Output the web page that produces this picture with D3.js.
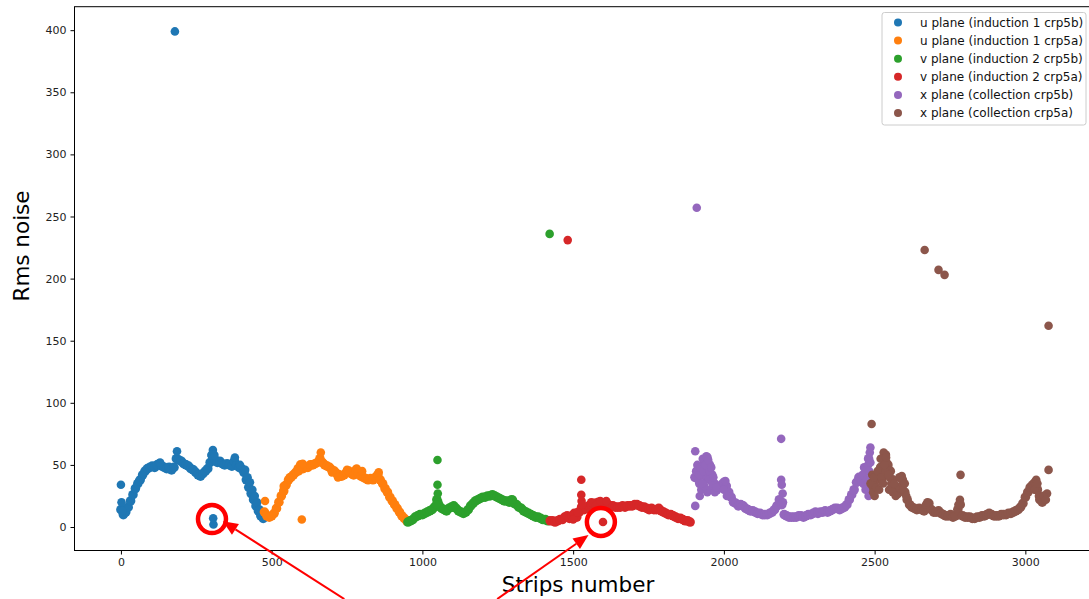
<!DOCTYPE html>
<html>
<head>
<meta charset="utf-8">
<script src="https://cdn.jsdelivr.net/npm/d3@7"></script>
<style>
  body { margin: 0; background: #fff; }
  svg { display: block; }
  text { font-family: "DejaVu Sans", sans-serif; }
</style>
</head>
<body>
<svg id="chart" width="1089" height="599"></svg>
<script>
// series names + colours (matplotlib tab10)
var seriesNames = [
  "u plane (induction 1 crp5b)",
  "u plane (induction 1 crp5a)",
  "v plane (induction 2 crp5b)",
  "v plane (induction 2 crp5a)",
  "x plane (collection crp5b)",
  "x plane (collection crp5a)"
]
var seriesColors = ["#1f77b4", "#ff7f0e", "#2ca02c", "#d62728", "#9467bd", "#8c564b"]

// first strip of every plane, values are read every 8 strips
var stripStep = 8
var seriesStart = [0, 476, 952, 1424, 1904, 2488]

var uCrp5b = [14,10,12,16,21,26,31,35,38,42,45,47,48,49,48,50,51,49,48,47,48,46,48,55,54,53,51,50,49,47,
  46,44,42,41,43,45,47,52,57,54,52,53,51,50,51,50,49,53,50,48,47,44,38,32,27,22,17,13,9,7]
var uCrp5a = [12,9,8,9,11,15,20,25,29,34,38,40,42,44,47,50,47,48,48,50,50,51,52,55,52,50,49,48,46,45,
  43,42,41,42,44,45,43,42,46,43,41,40,39,38,39,38,40,42,38,35,31,28,24,21,18,15,12,9,7,5]
var vCrp5b = [4,5,6,8,9,10,10,11,12,13,14,16,22,17,15,14,13,15,16,17,15,13,12,11,12,14,17,19,21,22,
  23,24,24,25,25,26,25,24,23,22,21,21,20,22,19,18,16,15,13,12,11,10,9,8,8,7,6,6,5]
var vCrp5a = [5,5,4,5,6,6,8,9,7,9,11,8,12,16,14,15,17,18,19,19,20,19,18,19,18,17,17,16,16,16,
  17,16,17,17,17,18,18,17,16,16,15,14,15,14,14,15,13,12,11,10,10,9,8,7,7,6,5,5,4]
var xCrp5b = [40,45,35,48,52,56,50,42,35,30,32,34,36,33,28,24,20,19,17,18,17,15,14,13,13,12,11,11,10,10,
  10,11,12,14,17,22,18,10,9,8,8,8,8,9,9,8,9,10,10,11,12,11,12,12,13,12,13,14,15,15,
  14,15,16,18,22,26,30,36,40,38,35,45,55]
var xCrp5a = [35,32,38,42,48,55,58,50,45,38,30,27,32,38,28,22,18,16,15,14,15,14,13,16,19,14,12,12,13,11,
  10,9,9,10,8,9,14,18,9,8,8,8,7,7,8,8,9,9,10,11,10,9,9,9,10,10,10,11,11,12,
  13,14,16,19,24,28,32,34,36,30,22,20,25]
var seriesValues = [uCrp5b, uCrp5a, vCrp5b, vCrp5a, xCrp5b, xCrp5a]

// isolated / scattered strips: [strip, rms]
var uCrp5bExtra = [[0,34],[2,20],[4,13],[179,399],[186,61],[305,62],[306,7],[307,2],[378,56],
  [60,37],[130,52],[300,58],[310,58],[395,50],[412,46],[420,40],[428,36],[436,30],[444,25],[452,20],[460,14]]
var uCrp5aExtra = [[478,21],[600,6],[603,51],[663,60],[782,47],[855,44],[540,33],[560,40],[590,45],
  [700,44],[720,40],[750,46],[800,45]]
var vCrp5bExtra = [[1050,54],[1050,34],[1051,27],[1053,20],[1422,236],[1045,18],[1100,16],[1300,22]]
var vCrp5aExtra = [[1482,231],[1527,38],[1527,26],[1528,21],[1599,4],[1500,6],[1560,20],
  [1515,12],[1530,18],[1575,17],[1590,21],[1610,21]]
var xCrp5bExtra = [[1905,61],[1905,17],[1910,257],[1920,25],[1925,30],[1930,55],[1940,40],[1945,28],
  [1950,38],[1955,30],[1935,33],[2190,71],[2190,38],[2192,34],[2486,64],[2484,60],[2488,30],[2480,25],[2470,30],
  [1908,45],[1912,50],[1915,38],[1918,42],[1922,48],[1928,35],[1932,45],[1938,50],[1942,57],[1948,54],
  [1952,45],[1958,48],[1962,35],[1965,40],[1970,28],[1975,32],[2000,30],[2005,37],[2010,25],[2195,27],
  [2196,20],[2460,42],[2465,48],[2475,38],[2478,50],[2482,45],[2486,52],[2488,40]]
var xCrp5aExtra = [[2490,83],[2492,42],[2495,28],[2525,38],[2530,60],[2535,45],[2540,52],[2550,40],
  [2590,41],[2666,223],[2712,207],[2732,203],[2785,42],[2783,22],[3036,38],[3072,27],[3077,46],[3077,162],
  [2492,35],[2498,40],[2500,25],[2505,32],[2510,45],[2515,30],[2520,55],[2522,40],[2528,35],[2532,50],
  [2538,56],[2545,42],[2548,30],[2555,35],[2560,28],[2565,35],[2570,25],[2582,40],[2595,30],[2600,35],
  [2605,25],[2670,18],[2675,20],[2778,18],[3030,30],[3040,35],[3045,25],[3060,25],[3068,22]]
var seriesExtra = [uCrp5bExtra, uCrp5aExtra, vCrp5bExtra, vCrp5aExtra, xCrp5bExtra, xCrp5aExtra]

var xTicks = [0, 500, 1000, 1500, 2000, 2500, 3000]
var yTicks = [0, 50, 100, 150, 200, 250, 300, 350, 400]

// red annotation marks (data coords): circles and arrows (tail -> tip)
var noteCircles = [[302, 6.4], [1592, 4]]
var noteArrows = [
  { from: [741, -58], to: [338, 4.6] },
  { from: [1248, -58], to: [1551, -6.5] }
]

var svg = d3.select("#chart")
var plotLeft = 74.5, plotRight = 1095, plotTop = 6.7, plotBottom = 550.5

var x = d3.scaleLinear().domain([-154, 3231]).range([plotLeft, plotRight])
var y = d3.scaleLinear().domain([-18.9, 418.9]).range([plotBottom, plotTop])

// frame
svg.append("rect")
  .attr("x", plotLeft).attr("y", plotTop)
  .attr("width", plotRight - plotLeft).attr("height", plotBottom - plotTop)
  .attr("fill", "none").attr("stroke", "#000").attr("stroke-width", 1)

// axes
var xAxis = d3.axisBottom(x).tickValues(xTicks).tickFormat(d3.format("d")).tickSize(4).tickPadding(4)
var gx = svg.append("g").attr("transform", "translate(0," + plotBottom + ")").call(xAxis)
gx.select(".domain").remove()
gx.selectAll("text").attr("font-size", 11).attr("font-family", "DejaVu Sans").attr("fill", "#222")

var yAxis = d3.axisLeft(y).tickValues(yTicks).tickFormat(d3.format("d")).tickSize(4).tickPadding(4)
var gy = svg.append("g").attr("transform", "translate(" + plotLeft + ",0)").call(yAxis)
gy.select(".domain").remove()
gy.selectAll("text").attr("font-size", 11).attr("font-family", "DejaVu Sans").attr("fill", "#222")

// axis titles
svg.append("text")
  .attr("x", 578).attr("y", 592)
  .attr("text-anchor", "middle")
  .attr("font-family", "Liberation Sans, Arial, sans-serif")
  .attr("font-size", 21.5)
  .text("Strips number")

svg.append("text")
  .attr("transform", "translate(29,246) rotate(-90)")
  .attr("text-anchor", "middle")
  .attr("font-family", "Liberation Sans, Arial, sans-serif")
  .attr("font-size", 21.5)
  .text("Rms noise")

// points
var plot = svg.append("g")
seriesValues.forEach(function(vals, k){
  var band = vals.map(function(v, i){ return [seriesStart[k] + i * stripStep, v] })
  var g = plot.append("g")
  g.selectAll(".band")
      .data(band)
      .enter()
    .append("circle")
      .attr("cx", function(d){ return x(d[0]) })
      .attr("cy", function(d){ return y(d[1]) })
      .attr("r", 4.8)
      .attr("fill", seriesColors[k])
  g.selectAll(".extra")
      .data(seriesExtra[k])
      .enter()
    .append("circle")
      .attr("cx", function(d){ return x(d[0]) })
      .attr("cy", function(d){ return y(d[1]) })
      .attr("r", 4.3)
      .attr("fill", seriesColors[k])
})

// legend
var lg = svg.append("g")
lg.append("rect")
  .attr("x", 882).attr("y", 12.5).attr("width", 204).attr("height", 112.5)
  .attr("rx", 2.5)
  .attr("fill", "#fff").attr("fill-opacity", 0.8)
  .attr("stroke", "#ccc").attr("stroke-width", 1)
seriesNames.forEach(function(name, i){
  var yy = 22.5 + i * 18.1
  lg.append("circle").attr("cx", 898).attr("cy", yy).attr("r", 4).attr("fill", seriesColors[i])
  lg.append("text").attr("x", 920).attr("y", yy + 4.3)
    .attr("font-size", 12).attr("fill", "#111")
    .text(name)
})

// red annotations
var notes = svg.append("g")
notes.selectAll(".note-circle")
    .data(noteCircles)
    .enter()
  .append("circle")
    .attr("cx", function(d){ return x(d[0]) })
    .attr("cy", function(d){ return y(d[1]) })
    .attr("r", 14)
    .attr("fill", "none")
    .attr("stroke", "#ff0000")
    .attr("stroke-width", 4.5)

noteArrows.forEach(function(a){
  var x1 = x(a.from[0]), y1 = y(a.from[1]), x2 = x(a.to[0]), y2 = y(a.to[1])
  var ang = Math.atan2(y2 - y1, x2 - x1)
  var headLen = 15, headW = 6.5
  var bx = x2 - headLen * Math.cos(ang), by = y2 - headLen * Math.sin(ang)
  notes.append("line")
    .attr("x1", x1).attr("y1", y1).attr("x2", bx).attr("y2", by)
    .attr("stroke", "#ff0000").attr("stroke-width", 2)
  var px = -Math.sin(ang), py = Math.cos(ang)
  notes.append("path")
    .attr("d", "M" + x2 + "," + y2 +
      "L" + (bx + px * headW) + "," + (by + py * headW) +
      "L" + (bx - px * headW) + "," + (by - py * headW) + "Z")
    .attr("fill", "#ff0000")
})
</script>
</body>
</html>
